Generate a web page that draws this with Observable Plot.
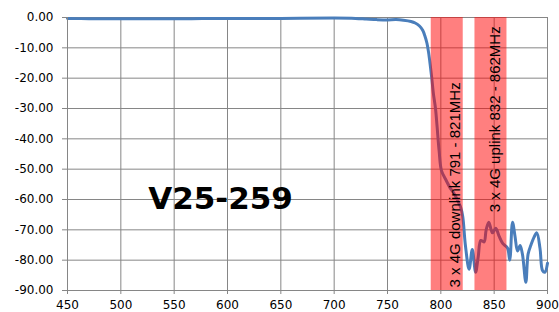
<!DOCTYPE html>
<html>
<head>
<meta charset="utf-8">
<script src="https://cdn.jsdelivr.net/npm/d3@7"></script>
<script src="https://cdn.jsdelivr.net/npm/@observablehq/plot@0.6"></script>
<style>
  html, body { margin: 0; padding: 0; background: #fff; }
  svg { display: block; }
</style>
</head>
<body>
<div id="chart"></div>
<script>
// Frequency (MHz) and attenuation (dB)
const freq = [450, 470, 500, 550, 600, 650, 700, 720, 730, 740, 750, 758, 765, 772, 776, 780, 783, 785, 787, 788.5, 790, 791.5, 793, 795, 796.5, 798.4, 800.6, 804.7, 809.3, 812.4, 816, 818.5, 820.5, 823, 826.5, 829.5, 832.6, 835, 837.5, 840.5, 842.5, 845, 848.4, 851.5, 854.5, 858, 862.5, 864.6, 867.2, 869.5, 871.9, 874.3, 876.5, 879.7, 881.8, 884.5, 887.4, 890, 893, 895.3, 897.5, 900];
const atten = [-0.3, -0.4, -0.4, -0.4, -0.3, -0.3, -0.2, -0.3, -0.5, -0.7, -0.8, -0.7, -0.9, -1.3, -1.8, -2.8, -4.2, -6, -8.5, -11.5, -15.5, -20, -25, -30, -36, -44, -50.5, -53.5, -56.5, -58, -60.5, -62.5, -65.5, -75, -83, -76.5, -84, -79, -73.5, -74, -70, -67.5, -71, -69.5, -72, -74.5, -76, -80, -67.5, -72, -77, -75.2, -78, -87.3, -78, -75, -72.4, -71, -76.2, -83.4, -84, -81];

// Highlighted bands
const bandStart = [791, 832];
const bandEnd = [821, 862];
const bandLabels = ["3 x 4G downlink 791 - 821MHz", "3 x 4G uplink 832 - 862MHz"];

// Axis ticks
const xTicks = [450, 500, 550, 600, 650, 700, 750, 800, 850, 900];
const yTicks = [0, -10, -20, -30, -40, -50, -60, -70, -80, -90];

const titleText = "V25-259";

const series = freq.map((f, i) => ({f, v: atten[i]}));
const bands = bandStart.map((s, i) => ({s, e: bandEnd[i]}));
// annotation placement (label anchors in data units)
const labelPos = [{x: 813, y: -89}, {x: 851.2, y: -64.2}];
const labels = bandLabels.map((t, i) => ({t, ...labelPos[i]}));
const title = [{t: titleText, x: 525.6, y: -63.1}];

const grid = "#868686";

const chart = Plot.plot({
  width: 559,
  height: 312,
  marginLeft: 67,
  marginRight: 12,
  marginTop: 17,
  marginBottom: 22,
  style: {fontFamily: "DejaVu Sans", fontSize: "12px", background: "#fff", color: "#000", overflow: "visible"},
  x: {domain: [450, 900]},
  y: {domain: [-90, 0]},
  marks: [
    Plot.gridX(xTicks, {stroke: grid, strokeOpacity: 1}),
    Plot.gridY(yTicks, {stroke: grid, strokeOpacity: 1}),
    Plot.frame({stroke: grid}),
    Plot.line(series, {x: "f", y: "v", stroke: "#4a7ebb", strokeWidth: 3, curve: "catmull-rom"}),
    Plot.rect(bands, {x1: "s", x2: "e", y1: -90, y2: 0, fill: "#ff0000", fillOpacity: 0.5}),
    Plot.text(labels, {x: "x", y: "y", text: "t", rotate: -90, textAnchor: "start", fontFamily: "Liberation Sans", fontSize: 15, fill: "#000"}),
    Plot.text(title, {x: "x", y: "y", text: "t", textAnchor: "start", lineAnchor: "bottom", fontFamily: "DejaVu Sans", fontWeight: "bold", fontSize: 31, fill: "#000"}),
    Plot.axisX(xTicks, {tickSize: 4, tickPadding: 6, stroke: grid, fill: "#000", label: null, tickFormat: d => String(d)}),
    Plot.axisY(yTicks, {tickSize: 5, tickPadding: 9, stroke: grid, fill: "#000", label: null, tickFormat: d => d.toFixed(2)}),
    Plot.ruleX([450], {stroke: grid}),
    Plot.ruleY([-90], {stroke: grid})
  ]
});
document.getElementById("chart").appendChild(chart);
</script>
</body>
</html>
